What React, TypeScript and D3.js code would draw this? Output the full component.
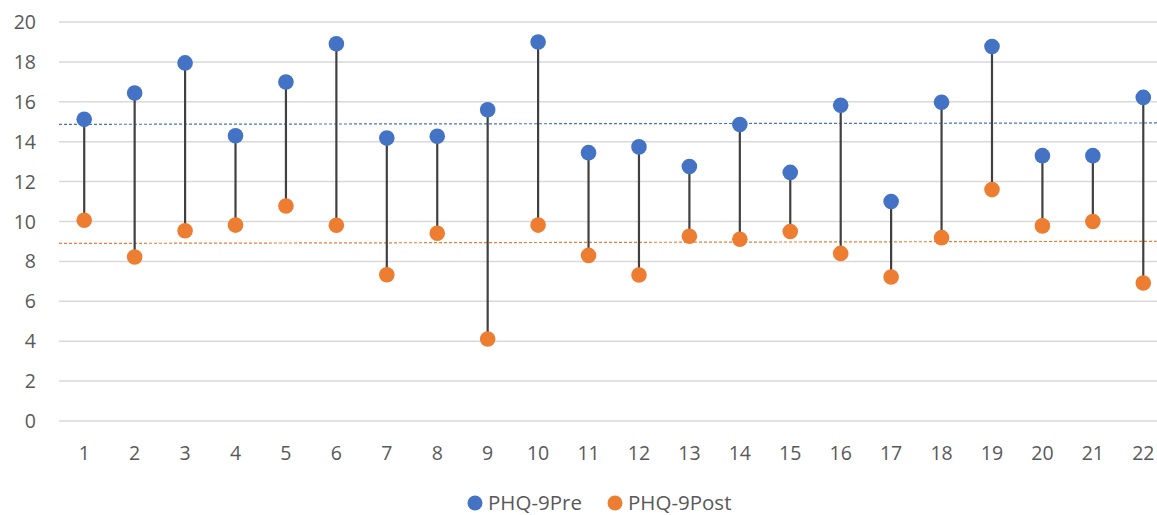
import React from "react";
import * as d3 from "d3";

const categories = ["1","2","3","4","5","6","7","8","9","10","11","12","13","14","15","16","17","18","19","20","21","22"];
const preValues = [15.12, 16.44, 17.95, 14.3, 16.99, 18.91, 14.18, 14.27, 15.6, 19.0, 13.45, 13.74, 12.76, 14.86, 12.46, 15.83, 11.0, 15.98, 18.77, 13.3, 13.3, 16.22];
const postValues = [10.06, 8.22, 9.54, 9.82, 10.78, 9.81, 7.33, 9.41, 4.11, 9.82, 8.3, 7.32, 9.26, 9.11, 9.5, 8.4, 7.22, 9.19, 11.6, 9.78, 10.0, 6.92];
const preTrend = [14.87, 14.94];
const postTrend = [8.9, 9.01];
const yTicks = [0, 2, 4, 6, 8, 10, 12, 14, 16, 18, 20];
const seriesNames = ["PHQ-9Pre", "PHQ-9Post"];
const colors = ["#4472C4", "#ED7D31"];

export default function App() {
  const W = 1157, H = 515;
  const left = 59, right = 1168.5, top = 22, bottom = 421;
  const x = d3.scaleBand().domain(categories).range([left, right]);
  const y = d3.scaleLinear().domain([0, 20]).range([bottom, top]);
  const cx = (c: string) => (x(c) as number) + x.bandwidth() / 2;
  const font = "'Open Sans', 'Liberation Sans', sans-serif";
  const textColor = "#595959";
  const legendX = [475, 615];
  const legendY = 503;
  return (
    <svg width={W} height={H} style={{ position: "absolute", left: 0, top: 0, background: "#fff" }} fontFamily={font}>
      {yTicks.map((t) => (
        <g key={t}>
          <line x1={left} x2={right} y1={y(t)} y2={y(t)} stroke="#d9d9d9" strokeWidth={1.5} />
          <text x={36} y={y(t)} dy="0.36em" textAnchor="end" fontSize={19.5} fill={textColor}>{t}</text>
        </g>
      ))}
      {categories.map((c) => (
        <text key={c} x={cx(c)} y={453} dy="0.36em" textAnchor="middle" fontSize={19.5} fill={textColor}>{c}</text>
      ))}
      <line x1={left} x2={right} y1={y(preTrend[0])} y2={y(preTrend[1])} stroke={colors[0]} strokeWidth={1.2} strokeDasharray="3,2" />
      <line x1={left} x2={right} y1={y(postTrend[0])} y2={y(postTrend[1])} stroke={colors[1]} strokeWidth={1.2} strokeDasharray="3,2" />
      {categories.map((c, i) => (
        <line key={"s" + c} x1={cx(c)} x2={cx(c)} y1={y(preValues[i])} y2={y(postValues[i])} stroke="#404040" strokeWidth={2.2} />
      ))}
      {categories.map((c, i) => (
        <circle key={"pre" + c} cx={cx(c)} cy={y(preValues[i])} r={7.8} fill={colors[0]} />
      ))}
      {categories.map((c, i) => (
        <circle key={"post" + c} cx={cx(c)} cy={y(postValues[i])} r={7.8} fill={colors[1]} />
      ))}
      {seriesNames.map((n, i) => (
        <g key={n}>
          <circle cx={legendX[i]} cy={legendY} r={7.5} fill={colors[i]} />
          <text x={legendX[i] + 13} y={legendY} dy="0.36em" fontSize={20.5} fill={textColor}>{n}</text>
        </g>
      ))}
    </svg>
  );
}
